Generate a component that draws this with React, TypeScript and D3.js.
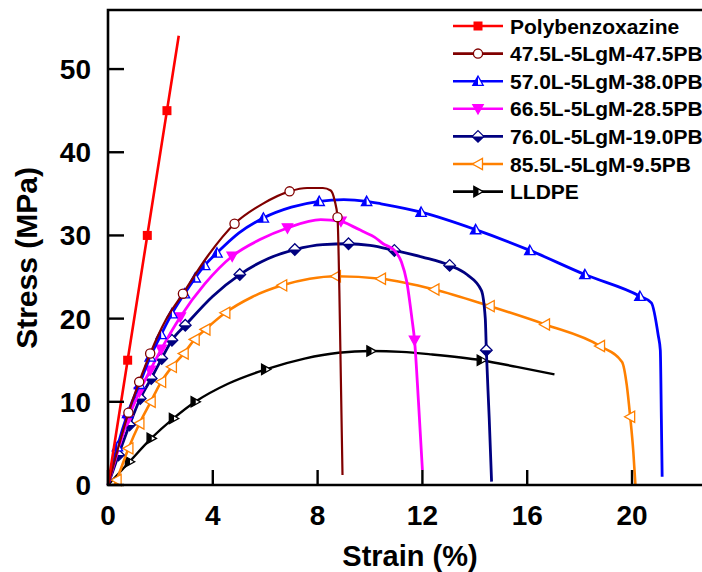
import React from "react";
import * as d3 from "d3";

type P = [number, number];

const xTicks = [0, 4, 8, 12, 16, 20];
const yTicks = [0, 10, 20, 30, 40, 50];

const pbLine: P[] = [[0, 0], [0.75, 15], [1.5, 30], [2.25, 45], [2.7, 54]];
const pbMarks: P[] = [[0.75, 15], [1.5, 30], [2.25, 45]];

const s475Line: P[] = [[0, 0], [0.4, 4.6], [0.78, 8.7], [1.19, 12.4], [1.61, 15.8], [2.2, 19.8], [2.86, 23.0], [3.8, 27.5], [4.83, 31.4], [5.9, 33.8], [6.93, 35.3], [7.6, 35.7], [8.2, 35.7], [8.5, 35.4], [8.65, 34.2], [8.76, 32.2], [8.83, 23.4], [8.95, 1.2]];
const s475Marks: P[] = [[0.78, 8.7], [1.19, 12.4], [1.61, 15.8], [2.86, 23.0], [4.83, 31.4], [6.93, 35.3], [8.76, 32.2]];

const s570Line: P[] = [[0, 0], [0.36, 4.6], [0.75, 8.6], [1.2, 12.1], [1.61, 15.4], [2.03, 18.1], [2.44, 20.6], [2.92, 23.0], [3.33, 24.9], [3.69, 26.4], [4.16, 27.9], [5.0, 30.3], [5.93, 32.1], [7.0, 33.4], [8.06, 34.1], [9.0, 34.3], [9.87, 34.1], [10.42, 33.8], [11.95, 32.8], [14.03, 30.7], [16.1, 28.2], [18.2, 25.3], [20.3, 22.7], [20.74, 21.9], [21.0, 18], [21.08, 16.2], [21.12, 8], [21.15, 1.0]];
const s570Marks: P[] = [[0.36, 4.6], [0.75, 8.6], [1.2, 12.1], [1.61, 15.4], [2.03, 18.1], [2.44, 20.6], [2.92, 23.0], [3.33, 24.9], [3.69, 26.4], [4.16, 27.9], [5.93, 32.1], [8.06, 34.1], [9.87, 34.1], [11.95, 32.8], [14.03, 30.7], [16.1, 28.2], [18.2, 25.3], [20.3, 22.7]];

const s665Line: P[] = [[0, 0], [0.35, 3.8], [0.75, 7.8], [1.2, 11.2], [1.61, 13.8], [2.03, 16.3], [2.76, 20.2], [3.7, 24.2], [4.74, 27.5], [5.8, 29.5], [6.85, 30.9], [8.12, 31.9], [8.89, 31.7], [9.4, 31.0], [9.78, 30.4], [10.17, 29.8], [10.5, 29.0], [10.93, 28.2], [11.2, 26.8], [11.4, 24.5], [11.6, 20], [11.7, 17.4], [11.85, 10], [12.0, 1.8]];
const s665Marks: P[] = [[0.75, 7.8], [1.2, 11.2], [1.61, 13.8], [2.03, 16.3], [2.76, 20.2], [4.74, 27.5], [6.85, 30.9], [8.89, 31.7], [11.7, 17.4]];

const s760Line: P[] = [[0, 0], [0.4, 3.6], [0.82, 7.2], [1.23, 10.4], [1.65, 12.8], [2.05, 15.2], [2.44, 17.4], [2.95, 19.2], [4.0, 22.7], [5.03, 25.3], [6.1, 27.2], [7.13, 28.3], [8.2, 28.9], [9.18, 29.0], [10.0, 28.8], [10.93, 28.2], [12.0, 27.4], [13.04, 26.4], [13.7, 25.3], [14.25, 23.4], [14.4, 20], [14.44, 16.2], [14.55, 8], [14.64, 0.4]];
const s760Marks: P[] = [[0.4, 3.6], [0.82, 7.2], [1.23, 10.4], [1.65, 12.8], [2.05, 15.2], [2.44, 17.4], [2.95, 19.2], [5.03, 25.3], [7.13, 28.3], [9.18, 29.0], [10.93, 28.2], [13.04, 26.4], [14.44, 16.2]];

const s855Line: P[] = [[0.25, 0], [0.33, 0.6], [0.78, 4.4], [1.2, 7.4], [1.63, 10.0], [2.03, 12.4], [2.44, 14.2], [2.89, 15.8], [3.31, 17.5], [3.72, 18.7], [4.48, 20.7], [5.5, 22.6], [6.65, 24.0], [7.7, 24.8], [8.7, 25.1], [10.42, 24.8], [12.46, 23.5], [14.57, 21.5], [16.68, 19.3], [18.78, 16.7], [19.62, 14.8], [19.8, 12], [19.93, 8.2], [20.05, 4], [20.13, 0]];
const s855Marks: P[] = [[0.33, 0.6], [0.78, 4.4], [1.2, 7.4], [1.63, 10.0], [2.03, 12.4], [2.44, 14.2], [2.89, 15.8], [3.31, 17.5], [3.72, 18.7], [4.48, 20.7], [6.65, 24.0], [8.7, 25.1], [10.42, 24.8], [12.46, 23.5], [14.57, 21.5], [16.68, 19.3], [18.78, 16.7], [19.93, 8.2]];

const lldpeLine: P[] = [[0, 0], [0.82, 2.8], [1.65, 5.6], [2.5, 8.0], [3.33, 10.0], [4.6, 12.2], [6.02, 13.9], [7.5, 15.2], [8.8, 15.9], [10.04, 16.1], [11.2, 16.0], [12.34, 15.7], [14.25, 15.0], [15.6, 14.2], [17.04, 13.3]];
const lldpeMarks: P[] = [[0.82, 2.8], [1.65, 5.6], [2.5, 8.0], [3.33, 10.0], [6.02, 13.9], [10.04, 16.1], [14.25, 15.0]];

const seriesNames = ["Polybenzoxazine", "47.5L-5LgM-47.5PB", "57.0L-5LgM-38.0PB", "66.5L-5LgM-28.5PB", "76.0L-5LgM-19.0PB", "85.5L-5LgM-9.5PB", "LLDPE"];
const seriesColors = ["#ff0000", "#800000", "#0000ff", "#ff00ff", "#000080", "#ff8000", "#000000"];
const seriesShapes = ["square", "circle", "triUpHalf", "triDown", "diamondHalf", "triLeftOpen", "triRightHalf"];
const seriesLines = [pbLine, s475Line, s570Line, s665Line, s760Line, s855Line, lldpeLine];
const seriesMarks = [pbMarks, s475Marks, s570Marks, s665Marks, s760Marks, s855Marks, lldpeMarks];
const seriesWidths = [2.6, 2.2, 2.8, 2.8, 2.8, 2.6, 2.4];

const W = 702, H = 572;
const x = d3.scaleLinear().domain([0, 22.9]).range([108, 708]);
const y = d3.scaleLinear().domain([0, 57.1]).range([485, 10]);
const font = "'Liberation Sans', Arial, Helvetica, sans-serif";

function Marker({ shape, cx, cy, color }: { shape: string; cx: number; cy: number; color: string }) {
  const sw = 1.3;
  switch (shape) {
    case "square":
      return <rect x={cx - 4.5} y={cy - 4.5} width={9} height={9} fill={color} />;
    case "circle":
      return <circle cx={cx} cy={cy} r={4.6} fill="#fff" stroke={color} strokeWidth={sw} />;
    case "triUpHalf": {
      const s = 5.2;
      return (
        <g>
          <path d={`M${cx},${cy - s} L${cx + s},${cy + s * 0.8} L${cx - s},${cy + s * 0.8}Z`} fill="#fff" stroke={color} strokeWidth={sw} />
          <path d={`M${cx},${cy - s} L${cx},${cy + s * 0.8} L${cx - s},${cy + s * 0.8}Z`} fill={color} />
        </g>
      );
    }
    case "triDown": {
      const s = 5.2;
      return <path d={`M${cx - s},${cy - s * 0.8} L${cx + s},${cy - s * 0.8} L${cx},${cy + s}Z`} fill={color} stroke={color} strokeWidth={sw} />;
    }
    case "diamondHalf": {
      const s = 5.8;
      return (
        <g>
          <path d={`M${cx},${cy - s} L${cx + s},${cy} L${cx},${cy + s} L${cx - s},${cy}Z`} fill="#fff" stroke={color} strokeWidth={sw} />
          <path d={`M${cx - s},${cy} L${cx + s},${cy} L${cx},${cy + s}Z`} fill={color} />
        </g>
      );
    }
    case "triLeftOpen": {
      const s = 5.6;
      return <path d={`M${cx - s},${cy} L${cx + s * 0.8},${cy - s} L${cx + s * 0.8},${cy + s}Z`} fill="#fff" stroke={color} strokeWidth={sw} />;
    }
    case "triRightHalf": {
      const s = 5.2;
      return (
        <g>
          <path d={`M${cx + s},${cy} L${cx - s * 0.8},${cy - s} L${cx - s * 0.8},${cy + s}Z`} fill="#fff" stroke={color} strokeWidth={sw} />
          <path d={`M${cx - s * 0.8},${cy - s} L${cx + 0.1 * s},${cy - s * 0.5} L${cx + 0.1 * s},${cy + s * 0.5} L${cx - s * 0.8},${cy + s}Z`} fill={color} />
        </g>
      );
    }
  }
  return null;
}

export default function App() {
  const line = d3.line<P>().x((d) => x(d[0])).y((d) => y(d[1])).curve(d3.curveMonotoneX);
  const order = [6, 5, 4, 3, 2, 1, 0];
  const legendY0 = 26, legendDy = 27.6;
  return (
    <svg width={W} height={H} style={{ position: "absolute", left: 0, top: 0, background: "#fff" }} fontFamily={font}>
      <rect width={W} height={H} fill="#fff" />
      {order.map((i) => (
        <g key={i}>
          <path d={line(seriesLines[i]) || ""} fill="none" stroke={seriesColors[i]} strokeWidth={seriesWidths[i]} strokeLinejoin="round" />
          {seriesMarks[i].map((m, j) => (
            <Marker key={j} shape={seriesShapes[i]} cx={x(m[0])} cy={y(m[1])} color={seriesColors[i]} />
          ))}
        </g>
      ))}
      {/* frame */}
      <path d={`M${x(0)},${y(0)} V${y(57.1)} H${x(22.9)} V${y(0)} Z`} fill="none" stroke="#000" strokeWidth={2.6} />
      {xTicks.map((t) => (
        <g key={"x" + t}>
          <line x1={x(t)} x2={x(t)} y1={y(0)} y2={y(0) - 15} stroke="#000" strokeWidth={2.4} />
          <text x={x(t)} y={525} textAnchor="middle" fontSize={28} fontWeight="bold">{t}</text>
        </g>
      ))}
      {yTicks.map((t) => (
        <g key={"y" + t}>
          <line x1={x(0)} x2={x(0) + 16} y1={y(t)} y2={y(t)} stroke="#000" strokeWidth={2.4} />
          <text x={91} y={y(t) + 10} textAnchor="end" fontSize={28} fontWeight="bold">{t}</text>
        </g>
      ))}
      <text x={410} y={566} textAnchor="middle" fontSize={29} fontWeight="bold">Strain (%)</text>
      <text transform={`translate(37,258) rotate(-90)`} textAnchor="middle" fontSize={30} fontWeight="bold">Stress (MPa)</text>
      {/* legend */}
      {seriesNames.map((n, i) => {
        const ly = legendY0 + i * legendDy;
        return (
          <g key={"l" + i}>
            <line x1={453} x2={503} y1={ly} y2={ly} stroke={seriesColors[i]} strokeWidth={2.6} />
            <Marker shape={seriesShapes[i]} cx={478} cy={ly} color={seriesColors[i]} />
            <text x={510} y={ly + 7.5} fontSize={21} fontWeight="bold">{n}</text>
          </g>
        );
      })}
    </svg>
  );
}
